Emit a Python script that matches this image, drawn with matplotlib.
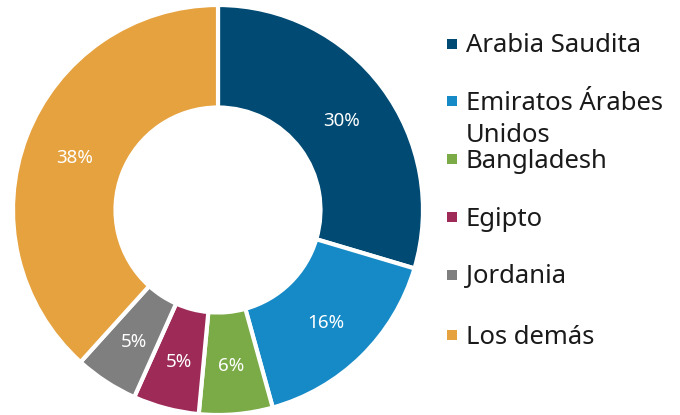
import matplotlib
matplotlib.use("Agg")
import matplotlib.pyplot as plt
from matplotlib.patches import Rectangle

categories = ["Arabia Saudita", "Emiratos Árabes\nUnidos", "Bangladesh", "Egipto", "Jordania", "Los demás"]
values = [29.6, 16.1, 5.8, 5.2, 5.0, 38.3]
colors = ["#004a73", "#168ac6", "#7aab47", "#9d2a57", "#7f7f7f", "#e5a23f"]

plt.rcParams['font.family'] = ['Noto Sans', 'DejaVu Sans']

W, H = 680, 415
fig = plt.figure(figsize=(W/100, H/100), dpi=100)
cx, cy, R = 218, 210, 205
ax = fig.add_axes([(cx-R)/W, (H-cy-R)/H, 2*R/W, 2*R/H])
wedges, texts, autotexts = ax.pie(values, colors=colors, startangle=90, counterclock=False,
       radius=1, autopct=lambda p: f"{p:.0f}%", pctdistance=0.75,
       wedgeprops=dict(width=0.5, edgecolor="white", linewidth=3),
       textprops=dict(color="white", fontsize=13.5))
for t in autotexts:
    x, y = t.get_position()
    t.set_position((x, y - 0.015))
ax.set_xlim(-1, 1); ax.set_ylim(-1, 1)
ax.set_aspect('equal')
ax.axis('off')

ys = [44, 101, 159, 217, 275, 335]
for lab, col, y in zip(categories, colors, ys):
    fig.patches.append(Rectangle(((447)/W, (H-y-5)/H), 10/W, 10/H, transform=fig.transFigure,
                                 facecolor=col, edgecolor='none'))
    for i, line in enumerate(lab.split("\n")):
        fig.text(466/W, (H-y-2-32*i)/H, line, fontsize=18.5, color="#1a1a1a", va='center',
                 transform=fig.transFigure)

fig.savefig("out.png", dpi=100)
